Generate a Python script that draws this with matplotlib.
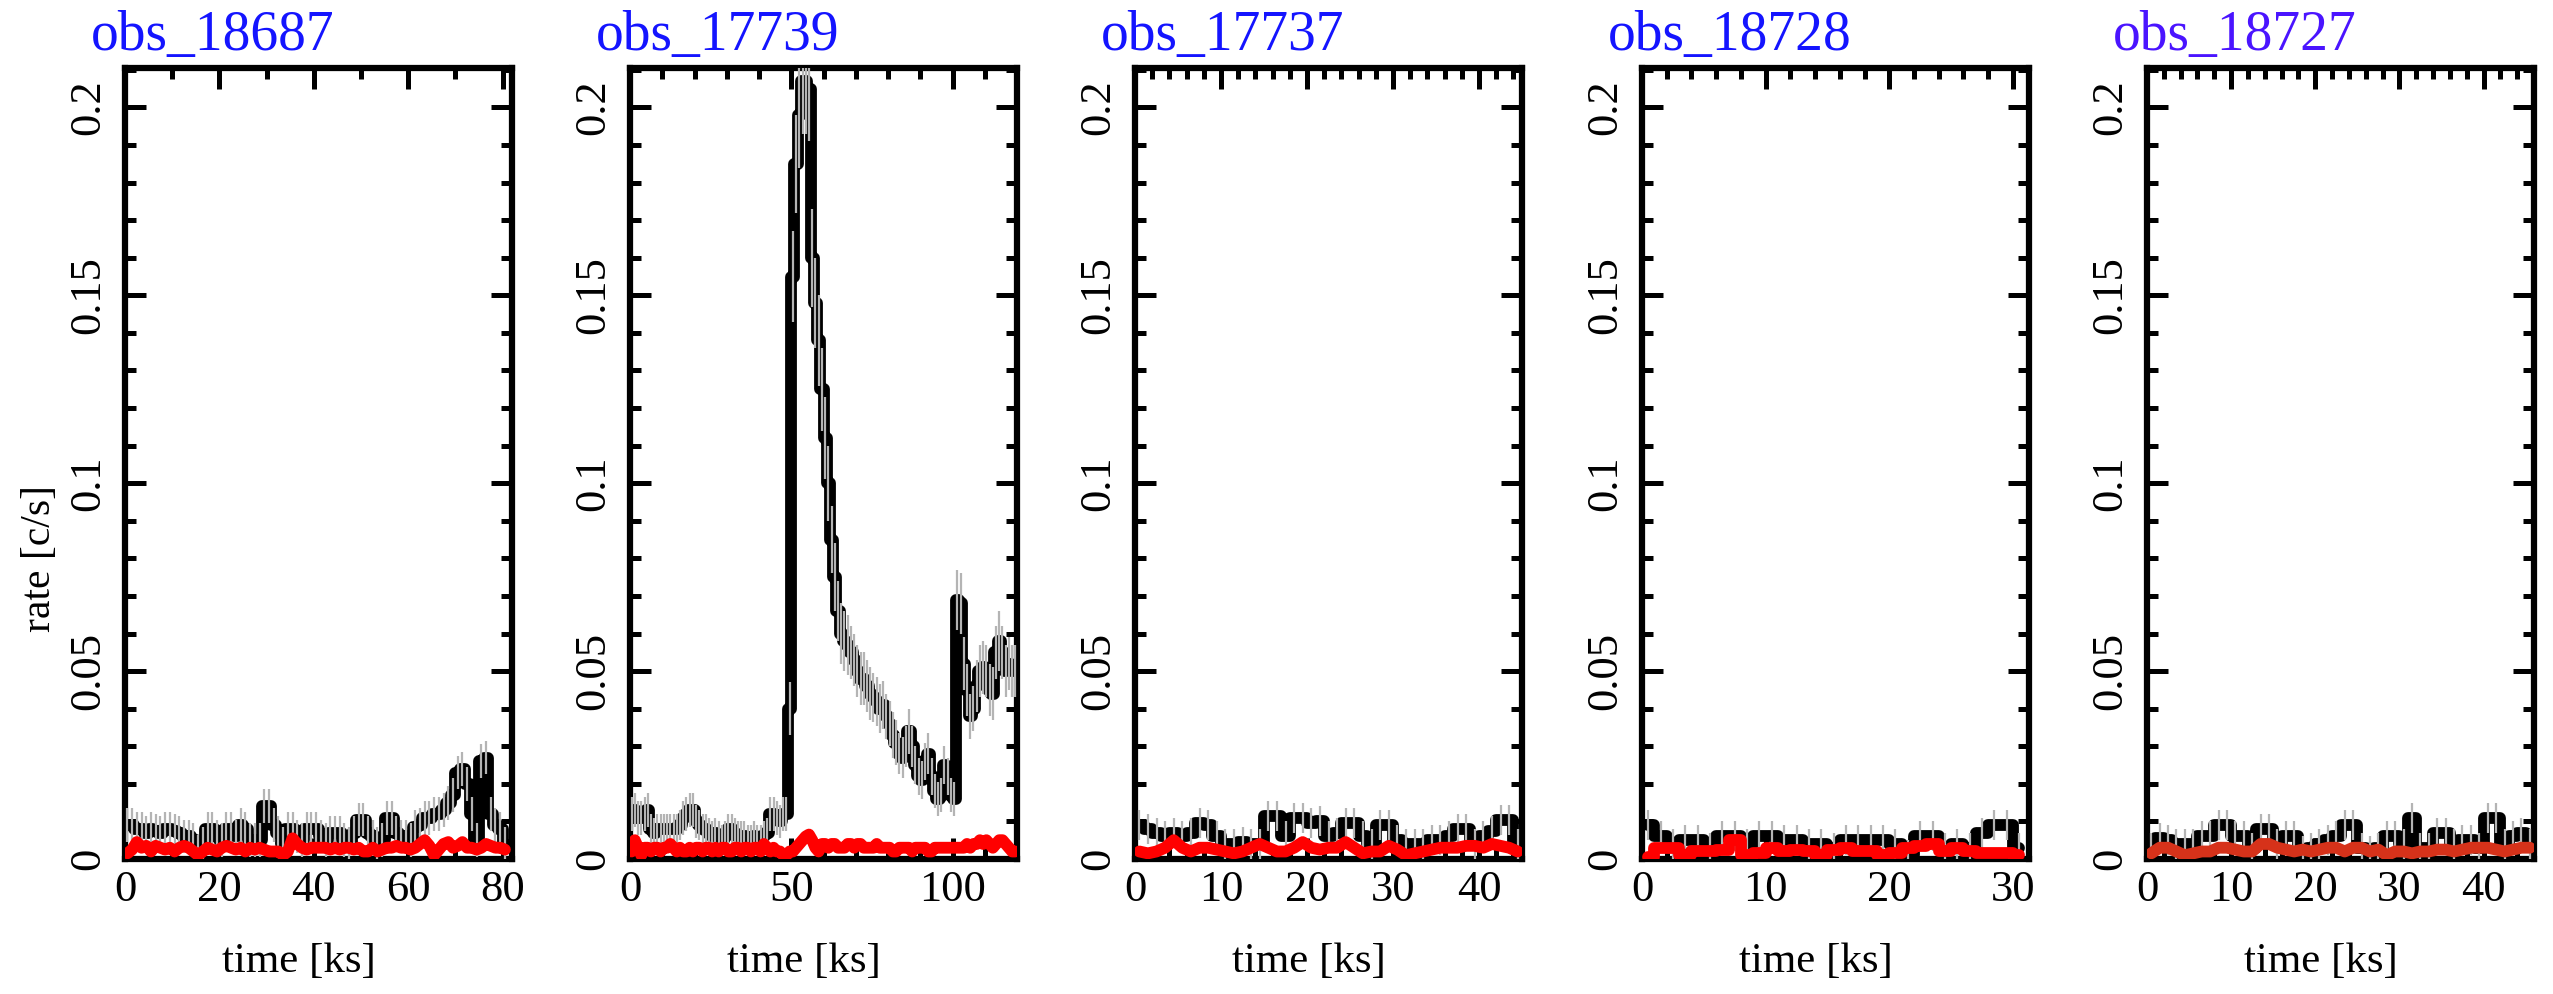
import matplotlib
matplotlib.use("Agg")
import matplotlib.pyplot as plt
import numpy as np
from matplotlib.ticker import MultipleLocator, FormatStrFormatter

plt.rcParams.update({"font.family": "Liberation Serif", "font.size": 30})

# light curves, 1 ks bins starting at t=0 (source: black, background: red)
OBS = ["obs_18687", "obs_17739", "obs_17737", "obs_18728", "obs_18727"]
BIN_KS = 1.0

SRC_18687 = [0.009, 0.009, 0.008, 0.008, 0.007, 0.008, 0.0075, 0.007, 0.008, 0.008,
             0.0075, 0.007, 0.006, 0.006, 0.005, 0.002, 0.004, 0.008, 0.008, 0.006,
             0.005, 0.008, 0.008, 0.006, 0.009, 0.008, 0.005, 0.005, 0.005, 0.014,
             0.014, 0.009, 0.007, 0.004, 0.008, 0.008, 0.006, 0.005, 0.008, 0.008,
             0.008, 0.006, 0.005, 0.007, 0.007, 0.007, 0.005, 0.004, 0.007, 0.0105,
             0.0105, 0.007, 0.006, 0.004, 0.005, 0.011, 0.011, 0.007, 0.006, 0.006,
             0.005, 0.0085, 0.009, 0.011, 0.011, 0.012, 0.012, 0.013, 0.015, 0.017,
             0.023, 0.024, 0.020, 0.012, 0.005, 0.026, 0.027, 0.012, 0.009, 0.008,
             0.004]
BKG_18687 = [0.0015, 0.0025, 0.0045, 0.003, 0.0035, 0.002, 0.0035, 0.003, 0.0025, 0.003,
             0.002, 0.003, 0.0035, 0.003, 0.002, 0.001, 0.002, 0.003, 0.0025, 0.002,
             0.003, 0.0035, 0.003, 0.0025, 0.003, 0.002, 0.003, 0.0025, 0.003, 0.0025,
             0.002, 0.002, 0.002, 0.001, 0.002, 0.0055, 0.004, 0.003, 0.0025, 0.003,
             0.003, 0.003, 0.003, 0.0025, 0.003, 0.0025, 0.003, 0.003, 0.0025, 0.003,
             0.002, 0.002, 0.003, 0.002, 0.0025, 0.003, 0.003, 0.0035, 0.003, 0.003,
             0.0025, 0.003, 0.004, 0.005, 0.0035, 0.001, 0.0025, 0.004, 0.0045, 0.003,
             0.0035, 0.0045, 0.003, 0.003, 0.0025, 0.003, 0.004, 0.0035, 0.003, 0.003,
             0.0025]
ERR_18687 = 0.0045

SRC_17739 = [0.012, 0.013, 0.011, 0.011, 0.012, 0.013, 0.008, 0.007, 0.008, 0.008,
             0.008, 0.008, 0.008, 0.008, 0.008, 0.009, 0.011, 0.012, 0.013, 0.013,
             0.010, 0.009, 0.008, 0.008, 0.007, 0.006, 0.007, 0.006, 0.005, 0.006,
             0.008, 0.008, 0.007, 0.006, 0.006, 0.006, 0.005, 0.005, 0.006, 0.005,
             0.005, 0.006, 0.007, 0.012, 0.012, 0.011, 0.010, 0.012, 0.012, 0.040,
             0.155, 0.185, 0.198, 0.207, 0.207, 0.205, 0.160, 0.148, 0.138, 0.125,
             0.112, 0.100, 0.085, 0.075, 0.066, 0.060, 0.058, 0.057, 0.055, 0.053,
             0.050, 0.048, 0.048, 0.046, 0.044, 0.043, 0.042, 0.040, 0.041, 0.038,
             0.036, 0.033, 0.031, 0.028, 0.027, 0.030, 0.034, 0.030, 0.025, 0.022,
             0.021, 0.026, 0.028, 0.022, 0.018, 0.016, 0.017, 0.025, 0.022, 0.017,
             0.016, 0.069, 0.068, 0.052, 0.045, 0.038, 0.040, 0.046, 0.050, 0.051,
             0.050, 0.045, 0.044, 0.055, 0.058, 0.055, 0.050, 0.052, 0.050, 0.050]
BKG_17739 = [0.002, 0.005, 0.003, 0.001, 0.003, 0.003, 0.002, 0.003, 0.003, 0.002,
             0.003, 0.003, 0.004, 0.003, 0.002, 0.003, 0.002, 0.002, 0.003, 0.002,
             0.003, 0.003, 0.002, 0.003, 0.003, 0.002, 0.003, 0.002, 0.003, 0.003,
             0.002, 0.002, 0.003, 0.003, 0.002, 0.003, 0.003, 0.002, 0.003, 0.003,
             0.002, 0.004, 0.003, 0.002, 0.003, 0.002, 0.002, 0.001, 0.001, 0.002,
             0.002, 0.003, 0.004, 0.005, 0.006, 0.0065, 0.005, 0.003, 0.002, 0.004,
             0.004, 0.003, 0.004, 0.004, 0.003, 0.003, 0.003, 0.004, 0.004, 0.003,
             0.004, 0.004, 0.003, 0.003, 0.003, 0.003, 0.004, 0.003, 0.003, 0.003,
             0.003, 0.002, 0.002, 0.003, 0.003, 0.003, 0.003, 0.002, 0.003, 0.003,
             0.003, 0.003, 0.002, 0.002, 0.003, 0.003, 0.003, 0.003, 0.003, 0.003,
             0.003, 0.003, 0.003, 0.003, 0.004, 0.003, 0.004, 0.004, 0.005, 0.004,
             0.005, 0.004, 0.003, 0.004, 0.005, 0.005, 0.004, 0.003, 0.002, 0.002]
ERR_17739 = [0.0045, 0.0045, 0.0045, 0.0045, 0.0045, 0.0045, 0.004, 0.004, 0.004, 0.004,
             0.004, 0.004, 0.004, 0.004, 0.004, 0.004, 0.0045, 0.0045, 0.0045, 0.0045,
             0.0045, 0.004, 0.004, 0.004, 0.004, 0.004, 0.004, 0.004, 0.004, 0.004,
             0.004, 0.004, 0.004, 0.004, 0.004, 0.004, 0.004, 0.004, 0.004, 0.004,
             0.004, 0.004, 0.004, 0.0045, 0.0045, 0.0045, 0.0045, 0.0045, 0.0045, 0.007,
             0.012, 0.013, 0.014, 0.014, 0.014, 0.014, 0.013, 0.012, 0.012, 0.011,
             0.011, 0.010, 0.009, 0.009, 0.008, 0.008, 0.008, 0.008, 0.007, 0.007,
             0.007, 0.007, 0.007, 0.007, 0.007, 0.0065, 0.0065, 0.0065, 0.0065, 0.006,
             0.006, 0.006, 0.006, 0.0055, 0.0055, 0.0055, 0.006, 0.0055, 0.005, 0.005,
             0.005, 0.005, 0.0055, 0.005, 0.0045, 0.0045, 0.0045, 0.005, 0.005, 0.0045,
             0.0045, 0.008, 0.008, 0.007, 0.007, 0.006, 0.006, 0.007, 0.007, 0.007,
             0.007, 0.007, 0.007, 0.007, 0.008, 0.007, 0.007, 0.007, 0.007, 0.007]

SRC_17737 = [0.009, 0.008, 0.007, 0.006, 0.007, 0.006, 0.007, 0.0095, 0.009, 0.006,
             0.004, 0.004, 0.0045, 0.004, 0.004, 0.0115, 0.0115, 0.006, 0.011, 0.011,
             0.0095, 0.010, 0.006, 0.007, 0.0095, 0.0095, 0.006, 0.004, 0.009, 0.009,
             0.005, 0.004, 0.004, 0.004, 0.005, 0.005, 0.006, 0.008, 0.008, 0.004,
             0.006, 0.0075, 0.0105, 0.0105, 0.004]
BKG_17737 = [0.002, 0.0015, 0.002, 0.003, 0.005, 0.003, 0.002, 0.003, 0.003, 0.0025,
             0.002, 0.0015, 0.002, 0.003, 0.004, 0.003, 0.002, 0.002, 0.003, 0.0045,
             0.003, 0.0025, 0.003, 0.003, 0.0045, 0.003, 0.0015, 0.002, 0.002, 0.0035,
             0.0025, 0.001, 0.0015, 0.002, 0.0025, 0.003, 0.003, 0.003, 0.0035, 0.0035,
             0.003, 0.004, 0.0035, 0.003, 0.002]
ERR_17737 = 0.004

SRC_18728 = [0.009, 0.006, 0.004, 0.005, 0.005, 0.003, 0.006, 0.006, 0.004, 0.006,
             0.006, 0.005, 0.005, 0.004, 0.004, 0.003, 0.005, 0.005, 0.005, 0.005,
             0.004, 0.001, 0.006, 0.006, 0.003, 0.004, 0.003, 0.007, 0.009, 0.009,
             0.003]
BKG_18728 = [0.0005, 0.003, 0.003, 0.001, 0.002, 0.002, 0.0025, 0.005, 0.001, 0.0015,
             0.003, 0.002, 0.0025, 0.002, 0.001, 0.0025, 0.003, 0.002, 0.002, 0.001,
             0.0015, 0.003, 0.0035, 0.004, 0.002, 0.003, 0.002, 0.0015, 0.0015, 0.0015,
             0.001]
ERR_18728 = 0.004

SRC_18727 = [0.003, 0.0055, 0.005, 0.004, 0.004, 0.004, 0.006, 0.006, 0.009, 0.009,
             0.006, 0.006, 0.003, 0.008, 0.008, 0.004, 0.006, 0.006, 0.002, 0.003,
             0.004, 0.005, 0.006, 0.009, 0.009, 0.003, 0.002, 0.003, 0.006, 0.006,
             0.004, 0.011, 0.003, 0.003, 0.007, 0.007, 0.004, 0.005, 0.005, 0.003,
             0.011, 0.011, 0.004, 0.006, 0.007, 0.004]
BKG_18727 = [0.0015, 0.003, 0.003, 0.002, 0.001, 0.0015, 0.002, 0.002, 0.003, 0.003,
             0.0025, 0.002, 0.002, 0.004, 0.004, 0.003, 0.0025, 0.002, 0.0025, 0.002,
             0.0025, 0.003, 0.003, 0.002, 0.003, 0.003, 0.002, 0.0025, 0.001, 0.002,
             0.002, 0.0015, 0.002, 0.002, 0.0025, 0.0025, 0.002, 0.0025, 0.003, 0.003,
             0.003, 0.0025, 0.002, 0.0025, 0.003, 0.003]
ERR_18727 = 0.004

SRC = [SRC_18687, SRC_17739, SRC_17737, SRC_18728, SRC_18727]
BKG = [BKG_18687, BKG_17739, BKG_17737, BKG_18728, BKG_18727]
ERR = [ERR_18687, ERR_17739, ERR_17737, ERR_18728, ERR_18727]

XMAX = [82, 120, 45, 31.3, 46]
XMAJOR = [20, 50, 10, 10, 10]
XMINOR = [10, 10, 2, 2, 2]
TITLE_COL = ["#1414ff", "#1414ff", "#1414ff", "#1414ff", "#4a14ff"]
BKG_COL = ["#ff0000", "#ff0000", "#ff0000", "#ff0000", "#d6321a"]
BKG_STEPS = [False, False, False, True, False]

W, H = 2553, 994
fig = plt.figure(figsize=(W / 100, H / 100), dpi=100)
lefts = [125, 630, 1135, 1642, 2147]
aw, top, bot = 387, 68, 859

for i, name in enumerate(OBS):
    ax = fig.add_axes([lefts[i] / W, 1 - bot / H, aw / W, (bot - top) / H])
    src = np.asarray(SRC[i]); bkg = np.asarray(BKG[i])
    t = (np.arange(len(src)) + 0.5) * BIN_KS
    tb = (np.arange(len(bkg)) + 0.5) * BIN_KS
    ax.plot(t, src, color="k", lw=8.5, drawstyle="steps-mid",
            solid_joinstyle="round", solid_capstyle="round", zorder=2)
    ax.errorbar(t, src, yerr=ERR[i], fmt="none", ecolor="#b4b4b4", elinewidth=1.6, zorder=3)
    ax.plot(tb, bkg, color=BKG_COL[i], lw=8.5, drawstyle="steps-mid" if BKG_STEPS[i] else "default",
            solid_joinstyle="round", solid_capstyle="round", zorder=4)

    ax.set_xlim(0, XMAX[i]); ax.set_ylim(0, 0.2105)
    ax.xaxis.set_major_locator(MultipleLocator(XMAJOR[i]))
    ax.xaxis.set_minor_locator(MultipleLocator(XMINOR[i]))
    ax.yaxis.set_major_locator(MultipleLocator(0.05))
    ax.yaxis.set_minor_locator(MultipleLocator(0.01))
    ax.yaxis.set_major_formatter(FormatStrFormatter("%g"))
    ax.tick_params(which="both", direction="in", top=True, right=True, width=3.6)
    ax.tick_params(which="major", length=15, labelsize=32)
    ax.tick_params(which="minor", length=8)
    ax.tick_params(axis="x", pad=8)
    ax.tick_params(axis="y", pad=12)
    for lab in ax.get_yticklabels():
        lab.set_rotation(90); lab.set_va("center")
    for s in ax.spines.values():
        s.set_linewidth(4.5)
    ax.set_xlabel("time [ks]", fontsize=31)
    ax.xaxis.set_label_coords(0.45, -0.105)
    ax.text(-0.088, 1.023, name, transform=ax.transAxes, color=TITLE_COL[i],
            fontsize=40, ha="left", va="baseline")

fig.text(40 / W, 1 - 558 / H, "rate [c/s]", rotation=90, ha="center", va="center", fontsize=30)

fig.savefig("out.png", dpi=100)
